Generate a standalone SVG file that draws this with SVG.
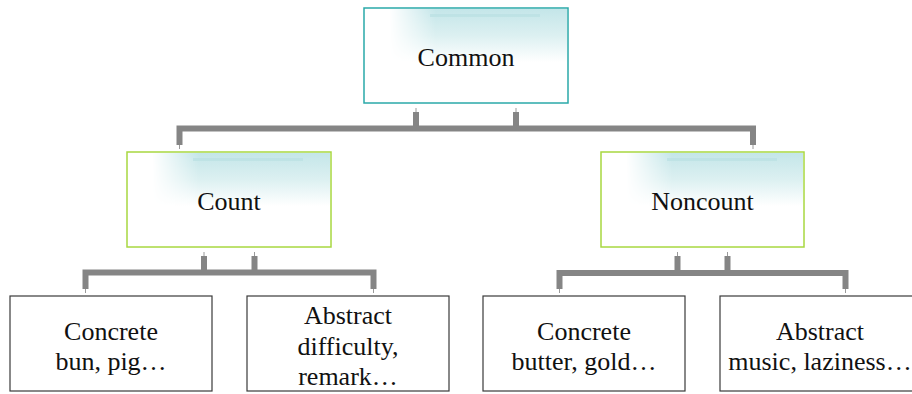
<svg xmlns="http://www.w3.org/2000/svg" width="912" height="394" viewBox="0 0 912 394">
<style>
  .lbl { font-family: "Liberation Serif", "Times New Roman", serif; font-size: 26px; fill: #111; text-anchor: middle; }
  .common { fill: #fff; stroke: #2aa9a9; stroke-width: 1.5; }
  .mid { fill: #fff; stroke: #a8d840; stroke-width: 1.5; }
  .leaf { fill: #fff; stroke: #3a3a3a; stroke-width: 1.2; }
  .glow { fill: url(#vfade); mask: url(#hmask); }
  .band { fill: #b9dfe2; }
  .conn { fill: none; stroke: #858585; stroke-width: 6; stroke-linejoin: miter; stroke-linecap: butt; }
  .tick { fill: none; stroke: #9a9a9a; stroke-width: 1; }
</style>
<defs>
  <linearGradient id="vfade" x1="0" y1="0" x2="0" y2="1">
    <stop offset="0" stop-color="#c4e6e9"/>
    <stop offset="0.5" stop-color="#dcf0f1"/>
    <stop offset="1" stop-color="#ffffff"/>
  </linearGradient>
  <linearGradient id="hfade" x1="0" y1="0" x2="1" y2="0">
    <stop offset="0" stop-color="#000"/>
    <stop offset="0.12" stop-color="#000"/>
    <stop offset="0.35" stop-color="#fff"/>
    <stop offset="1" stop-color="#fff"/>
  </linearGradient>
  <mask id="hmask" maskContentUnits="objectBoundingBox">
    <rect x="0" y="0" width="1" height="1" fill="url(#hfade)"/>
  </mask>
</defs>

<g id="connectors">
  <path class="conn" d="M179.5,145 V128.5 H753 V145 M416,112 V128.5 M516,112 V128.5"/>
  <path class="tick" d="M179.5,145 V149 M753,145 V149 M416,112 V108 M516,112 V108"/>
  <path class="conn" d="M85.5,289 V272.5 H373.5 V289 M204,256 V272.5 M254.5,256 V272.5"/>
  <path class="tick" d="M85.5,289 V293 M373.5,289 V293 M204,256 V252 M254.5,256 V252"/>
  <path class="conn" d="M559.5,289 V273 H845.5 V289 M677.5,256 V273 M727.5,256 V273"/>
  <path class="tick" d="M559.5,289 V293 M845.5,289 V293 M677.5,256 V252 M727.5,256 V252"/>
</g>

<g id="common">
  <rect class="common" x="364" y="8" width="204" height="95"/>
  <rect class="glow" x="365" y="9" width="202" height="53"/>
  <rect class="band" x="430" y="14" width="110" height="3" opacity="0.7"/>
  <text class="lbl" x="466" y="66">Common</text>
</g>

<g id="count">
  <rect class="mid" x="127" y="152" width="204" height="95"/>
  <rect class="glow" x="128" y="153" width="202" height="53"/>
  <rect class="band" x="193" y="158" width="110" height="3" opacity="0.7"/>
  <text class="lbl" x="229" y="210">Count</text>
</g>

<g id="noncount">
  <rect class="mid" x="601" y="152" width="203" height="95"/>
  <rect class="glow" x="602" y="153" width="201" height="53"/>
  <rect class="band" x="667" y="158" width="110" height="3" opacity="0.7"/>
  <text class="lbl" x="702.5" y="210">Noncount</text>
</g>

<g id="count-concrete">
  <rect class="leaf" x="10" y="296" width="202" height="95"/>
  <text class="lbl" x="111" y="340">Concrete</text>
  <text class="lbl" x="111" y="369.5">bun, pig…</text>
</g>

<g id="count-abstract">
  <rect class="leaf" x="247" y="296" width="202" height="95"/>
  <text class="lbl" x="348" y="324">Abstract</text>
  <text class="lbl" x="348" y="354.5">difficulty,</text>
  <text class="lbl" x="348" y="385">remark…</text>
</g>

<g id="noncount-concrete">
  <rect class="leaf" x="483" y="296" width="202" height="95"/>
  <text class="lbl" x="584" y="340">Concrete</text>
  <text class="lbl" x="584" y="369.5">butter, gold…</text>
</g>

<g id="noncount-abstract">
  <rect class="leaf" x="720" y="296" width="202" height="95"/>
  <text class="lbl" x="820" y="340">Abstract</text>
  <text class="lbl" x="820" y="369.5">music, laziness…</text>
</g>
</svg>
